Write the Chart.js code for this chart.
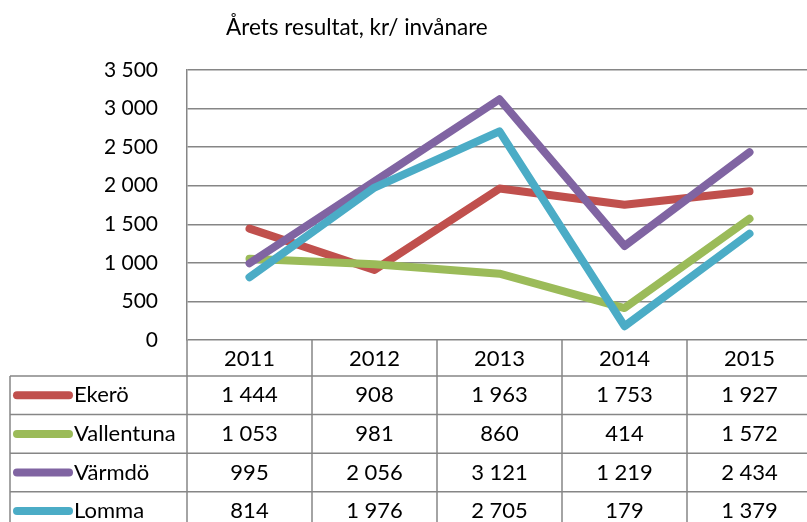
<!DOCTYPE html>
<html>
<head>
<meta charset="utf-8">
<script src="https://cdn.jsdelivr.net/npm/chart.js@4"></script>
<style>
  html, body { margin: 0; padding: 0; background: #fff; overflow: hidden; }
  #wrap { width: 807px; height: 522px; overflow: hidden; }
</style>
</head>
<body>
<div id="wrap"><canvas id="chart" width="815" height="535"></canvas></div>
<script>
const years = ["2011", "2012", "2013", "2014", "2015"];
const names = ["Ekerö", "Vallentuna", "Värmdö", "Lomma"];
const colors = ["#C0504D", "#9BBB59", "#8064A2", "#4BACC6"];
const ekero = [1444, 908, 1963, 1753, 1927];
const vallentuna = [1053, 981, 860, 414, 1572];
const varmdo = [995, 2056, 3121, 1219, 2434];
const lomma = [814, 1976, 2705, 179, 1379];
const series = [ekero, vallentuna, varmdo, lomma];
const title = "Årets resultat, kr/ invånare";

const FONT = "Lato";
const GRID = "#868686";

// 1444 -> "1 444"
const fmt = v => String(v).replace(/\B(?=(\d{3})+(?!\d))/g, " ");

// data table under the plot + title
const tablePlugin = {
  id: "table",
  afterDraw(chart) {
    const { ctx, chartArea: a, scales: { x } } = chart;
    const colW = x.getPixelForValue(1) - x.getPixelForValue(0);
    const headH = 36, rowH = 38.6, left = 10;
    const top = a.bottom;
    const bottom = chart.height;

    ctx.save();
    ctx.strokeStyle = GRID;
    ctx.lineWidth = 1.5;
    ctx.beginPath();
    // column borders
    for (let i = 0; i <= years.length; i++) {
      const xe = x.getPixelForValue(0) - colW / 2 + i * colW;
      ctx.moveTo(xe, top);
      ctx.lineTo(xe, bottom);
    }
    ctx.moveTo(left, top + headH);
    ctx.lineTo(left, bottom);
    for (let r = 0; r <= series.length; r++) {
      const y = top + headH + r * rowH;
      ctx.moveTo(left, y);
      ctx.lineTo(a.right, y);
    }
    ctx.stroke();

    ctx.fillStyle = "#000";
    ctx.font = `22px ${FONT}`;
    ctx.textBaseline = "middle";
    ctx.textAlign = "center";
    years.forEach((yr, i) => ctx.fillText(yr, x.getPixelForValue(i), top + headH / 2 + 1));

    series.forEach((vals, r) => {
      const cy = top + headH + r * rowH + rowH / 2;
      ctx.textAlign = "center";
      vals.forEach((v, i) => ctx.fillText(fmt(v), x.getPixelForValue(i), cy));
      // legend key
      ctx.strokeStyle = colors[r];
      ctx.lineWidth = 8;
      ctx.lineCap = "round";
      ctx.beginPath();
      ctx.moveTo(17, cy);
      ctx.lineTo(69, cy);
      ctx.stroke();
      ctx.textAlign = "left";
      ctx.fillText(names[r], 74, cy);
    });

    ctx.font = `22.5px ${FONT}`;
    ctx.textAlign = "left";
    ctx.fillText(title, 226, 28);
    ctx.restore();
  }
};

new Chart(document.getElementById("chart"), {
  type: "line",
  data: {
    labels: years,
    datasets: names.map((n, i) => ({
      label: n,
      data: series[i],
      borderColor: colors[i],
      backgroundColor: colors[i],
      borderWidth: 8,
      borderCapStyle: "round",
      borderJoinStyle: "round",
      pointRadius: 0,
      tension: 0,
      order: names.length - i
    }))
  },
  options: {
    responsive: false,
    animation: false,
    layout: { padding: { left: 0, right: 3, top: 70, bottom: 195 } },
    plugins: { legend: { display: false }, tooltip: { enabled: false } },
    scales: {
      x: { display: false, offset: true },
      y: {
        min: 0,
        max: 3500,
        afterFit: s => { s.width = 187; },
        ticks: {
          stepSize: 500,
          padding: 29,
          color: "#000",
          font: { family: FONT, size: 21 },
          callback: v => fmt(v)
        },
        grid: { color: GRID, lineWidth: 1.5, drawTicks: false },
        border: { display: true, color: GRID, width: 1.5 }
      }
    }
  },
  plugins: [tablePlugin]
});
</script>
</body>
</html>
